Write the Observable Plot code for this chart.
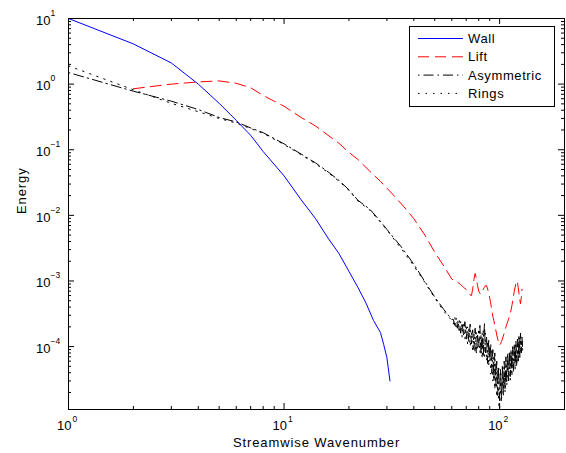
<!DOCTYPE html>
<html>
<head>
<meta charset="utf-8">
<script src="https://cdn.jsdelivr.net/npm/d3@7"></script>
<script src="https://cdn.jsdelivr.net/npm/@observablehq/plot@0.6"></script>
<style>
  html, body { margin: 0; padding: 0; background: #fff; }
  #chart { width: 566px; height: 453px; }
</style>
</head>
<body>
<div id="chart"></div>
<script>
// ---------- data ----------
const seriesNames = ["Wall", "Lift", "Asymmetric", "Rings"];

const kWall = [1,2,3,4,5,6,7,8,10,12,14,16,18,20,22,24,26,28,29,30,31];
const eWall = [10,4.1,2.1,1.0,0.51,0.28,0.166,0.094,0.040,0.0173,0.0089,0.0045,0.0026,0.0014,0.0008,0.00046,0.00025,0.000164,0.000107,0.000068,0.00003];

const kLift = [2,3,4,5,6,7,8,9,10,12,14,16,18,20,22,25,28,30,33,36,40,45,50,55,60,
  62,64,66,68,70,72,73,74,75,76,77,78,79,80,81,82,83,84,85,86,87,88,89,90,
  91,92,93,94,95,96,97,98,99,100,101,102,103,104,105,106,107,108,109,110,
  111,112,113,114,115,116,117,118,119,120,121,122,123,124,125,126,127];
const eLift = [0.85,1.0,1.08,1.12,1.03,0.88,0.67,0.55,0.46,0.31,0.23,0.166,0.125,0.091,0.071,0.047,0.033,0.026,0.0186,0.0135,0.0089,0.005,0.00275,0.0017,0.00107,
  1.0e-3,9.5e-4,8.8e-4,8.0e-4,7.4e-4,6.6e-4,6.1e-4,6.0e-4,7.5e-4,1.05e-3,1.3e-3,1.1e-3,8.5e-4,7.0e-4,6.5e-4,6.3e-4,6.8e-4,7.5e-4,8.0e-4,8.5e-4,8.5e-4,7.5e-4,6.5e-4,5.5e-4,
  4.5e-4,3.6e-4,2.9e-4,2.5e-4,2.1e-4,1.8e-4,1.5e-4,1.3e-4,1.15e-4,1.05e-4,1.1e-4,1.2e-4,1.3e-4,1.45e-4,1.6e-4,1.8e-4,2.0e-4,2.2e-4,2.4e-4,2.6e-4,
  2.9e-4,3.2e-4,3.6e-4,4.2e-4,5.0e-4,6.0e-4,7.0e-4,8.0e-4,9.0e-4,1.0e-3,9.5e-4,8.0e-4,6.5e-4,5.2e-4,4.5e-4,5.5e-4,7.5e-4];

const kBlack = [1,2,3,4,5,6,7,8,10,12,14,16,18,20,22,25,28,30,35,40,45,50,55,60,
  61,62,63,64,65,66,67,68,69,70,71,72,73,74,75,76,77,78,79,80,
  81,82,83,84,85,86,87,88,89,90,91,92,93,94,95,96,97,98,99,100,
  101,102,103,104,105,106,107,108,109,110,111,112,113,114,115,116,117,118,119,120,
  121,122,123,124,125,126,127,128];
const eAsym = [1.5,0.78,0.55,0.41,0.31,0.265,0.215,0.182,0.123,0.086,0.063,0.046,0.034,0.0245,0.017,0.0124,0.0081,0.0061,0.0033,0.0018,0.00098,0.00057,0.00037,0.00026,
  2.6e-4,2.1e-4,2.7e-4,1.9e-4,2.5e-4,1.6e-4,2.3e-4,1.5e-4,2.4e-4,1.3e-4,2.0e-4,1.2e-4,2.2e-4,1.1e-4,1.8e-4,0.9e-4,1.9e-4,0.8e-4,1.5e-4,1.0e-4,
  2.1e-4,0.75e-4,1.6e-4,0.7e-4,2.3e-4,0.8e-4,1.4e-4,0.55e-4,1.3e-4,0.6e-4,1.1e-4,0.4e-4,0.9e-4,0.3e-4,0.8e-4,0.25e-4,0.6e-4,0.18e-4,0.5e-4,0.15e-4,
  0.45e-4,0.16e-4,0.5e-4,0.2e-4,0.6e-4,0.22e-4,0.7e-4,0.3e-4,0.8e-4,0.3e-4,0.85e-4,0.35e-4,0.9e-4,0.4e-4,1.0e-4,0.45e-4,1.1e-4,0.5e-4,1.2e-4,0.55e-4,
  1.3e-4,0.6e-4,1.5e-4,0.7e-4,1.6e-4,0.8e-4,1.4e-4,0.9e-4];
const eRings = [1.9,0.82,0.51,0.38,0.30,0.255,0.21,0.178,0.12,0.084,0.061,0.045,0.033,0.024,0.0166,0.012,0.0079,0.006,0.0031,0.0017,0.00095,0.00055,0.00035,0.00025,
  2.2e-4,2.8e-4,1.8e-4,2.5e-4,1.6e-4,2.4e-4,1.4e-4,2.2e-4,1.3e-4,2.1e-4,1.1e-4,1.9e-4,1.0e-4,1.7e-4,0.85e-4,1.6e-4,0.8e-4,1.7e-4,0.9e-4,1.9e-4,
  0.8e-4,1.5e-4,0.65e-4,1.8e-4,0.7e-4,1.6e-4,0.6e-4,1.2e-4,0.5e-4,1.0e-4,0.38e-4,0.85e-4,0.3e-4,0.7e-4,0.22e-4,0.55e-4,0.17e-4,0.45e-4,0.13e-4,0.11e-4,
  0.3e-4,0.14e-4,0.4e-4,0.17e-4,0.5e-4,0.2e-4,0.6e-4,0.25e-4,0.65e-4,0.28e-4,0.75e-4,0.3e-4,0.8e-4,0.35e-4,0.9e-4,0.4e-4,1.0e-4,0.45e-4,1.1e-4,0.5e-4,
  1.2e-4,0.55e-4,1.35e-4,0.65e-4,1.5e-4,0.75e-4,1.3e-4,0.85e-4];

// axis ticks and labels
const xDomain = [1, 200];
const yDomain = [1.1e-5, 10];
const xMajor = [1, 10, 100];
const xMajorExp = ["0", "1", "2"];
const xMinor = [2,3,4,5,6,7,8,9,20,30,40,50,60,70,80,90,200];
const yMajor = [10, 1, 0.1, 0.01, 0.001, 0.0001];
const yMajorExp = ["1", "0", "\u22121", "\u22122", "\u22123", "\u22124"];
const yMinor = [2e-5,3e-5,4e-5,5e-5,6e-5,7e-5,8e-5,9e-5,
  2e-4,3e-4,4e-4,5e-4,6e-4,7e-4,8e-4,9e-4,
  2e-3,3e-3,4e-3,5e-3,6e-3,7e-3,8e-3,9e-3,
  2e-2,3e-2,4e-2,5e-2,6e-2,7e-2,8e-2,9e-2,
  0.2,0.3,0.4,0.5,0.6,0.7,0.8,0.9,2,3,4,5,6,7,8,9];
const xLabel = "Streamwise Wavenumber";
const yLabel = "Energy";

// ---------- styling ----------
const colors = {Wall: "#0000ff", Lift: "#ff0000", Asymmetric: "#000000", Rings: "#000000"};
const dashes = {Wall: null, Lift: "11,6", Asymmetric: "1.5,4,10,4", Rings: "1.5,6"};

const W = 566, H = 453;
const mL = 68, mR = 2, mT = 18, mB = 44;
const pw = W - mL - mR, ph = H - mT - mB;
const font = "'Liberation Sans', Arial, Helvetica, sans-serif";
const ls = "0.9px";

const toRows = (ks, es, name) => ks.map((k, i) => ({k, e: es[i], name}));
const wall = toRows(kWall, eWall, "Wall");
const lift = toRows(kLift, eLift, "Lift");
const asym = toRows(kBlack, eAsym, "Asymmetric");
const rings = toRows(kBlack, eRings, "Rings");

const lineMark = (rows, name) => Plot.line(rows, {
  x: "k", y: "e", stroke: colors[name], strokeWidth: 1,
  strokeDasharray: dashes[name] || undefined
});

const xMaj = xMajor.map((v, i) => ({v, exp: xMajorExp[i]}));
const yMaj = yMajor.map((v, i) => ({v, exp: yMajorExp[i]}));

const chart = Plot.plot({
  width: W, height: H,
  marginLeft: mL, marginRight: mR, marginTop: mT, marginBottom: mB,
  x: {type: "log", domain: xDomain, axis: null},
  y: {type: "log", domain: yDomain, axis: null},
  style: {fontFamily: font, fontSize: "13px", background: "white", color: "black"},
  marks: [
    lineMark(rings, "Rings"),
    lineMark(asym, "Asymmetric"),
    lineMark(lift, "Lift"),
    lineMark(wall, "Wall"),
    // inward ticks, bottom & top
    Plot.ruleX(xMajor, {x: d => d, insetTop: ph - 6, stroke: "black"}),
    Plot.ruleX(xMajor, {x: d => d, insetBottom: ph - 6, stroke: "black"}),
    Plot.ruleX(xMinor, {x: d => d, insetTop: ph - 3, stroke: "black"}),
    Plot.ruleX(xMinor, {x: d => d, insetBottom: ph - 3, stroke: "black"}),
    // inward ticks, left & right
    Plot.ruleY(yMajor, {y: d => d, insetRight: pw - 6, stroke: "black"}),
    Plot.ruleY(yMajor, {y: d => d, insetLeft: pw - 6, stroke: "black"}),
    Plot.ruleY(yMinor, {y: d => d, insetRight: pw - 3, stroke: "black"}),
    Plot.ruleY(yMinor, {y: d => d, insetLeft: pw - 3, stroke: "black"}),
    Plot.frame({stroke: "black", strokeWidth: 1}),
    // tick labels x (whole label centred on the tick)
    Plot.text(xMaj, {x: "v", frameAnchor: "bottom", text: () => "10", textAnchor: "end", dx: 3, dy: 20, fontSize: 13, fill: "black"}),
    Plot.text(xMaj, {x: "v", frameAnchor: "bottom", text: "exp", textAnchor: "start", dx: 4, dy: 12, fontSize: 8.5, fill: "black"}),
    // tick labels y
    Plot.text(yMaj, {y: "v", frameAnchor: "left", text: () => "10", textAnchor: "end", dx: -18, dy: 2, fontSize: 13, fill: "black"}),
    Plot.text(yMaj, {y: "v", frameAnchor: "left", text: "exp", textAnchor: "start", dx: -18, dy: -5.5, fontSize: 8.5, fill: "black"}),
    // axis labels
    Plot.text([xLabel], {frameAnchor: "bottom", text: d => d, dy: 37, fontSize: 13, fill: "black"}),
    Plot.text([yLabel], {frameAnchor: "left", text: d => d, dx: -47, rotate: -90, fontSize: 13, fill: "black"})
  ]
});

document.getElementById("chart").appendChild(chart);

// letter spacing on axis labels (wider rendering of the reference)
const svg = d3.select(chart);
svg.selectAll("text").filter(function() { return this.textContent === xLabel || this.textContent === yLabel; })
  .attr("letter-spacing", ls);

// ---------- legend ----------
const lg = svg.append("g").attr("font-family", font).attr("font-size", 13).attr("text-anchor", "start");
lg.append("rect").attr("x", 409.5).attr("y", 26.5).attr("width", 145).attr("height", 80)
  .attr("fill", "white").attr("stroke", "black").attr("stroke-width", 1);
seriesNames.forEach((name, i) => {
  const yy = 38.5 + i * 18.3;
  lg.append("line").attr("x1", 418).attr("x2", 463).attr("y1", yy).attr("y2", yy)
    .attr("stroke", colors[name]).attr("stroke-width", 1)
    .attr("stroke-dasharray", dashes[name]);
  lg.append("text").attr("x", 468).attr("y", yy).attr("dy", "0.35em")
    .attr("fill", "black").attr("letter-spacing", "0.6px").text(name);
});
</script>
</body>
</html>
